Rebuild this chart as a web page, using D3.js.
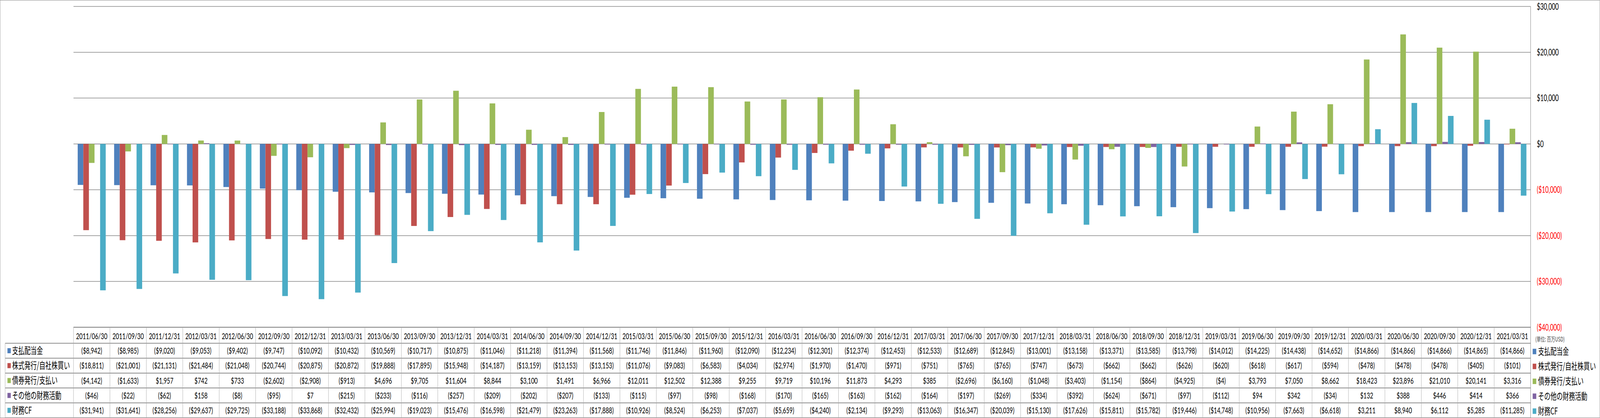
<!DOCTYPE html>
<html>
<head>
<meta charset="utf-8">
<script src="https://cdn.jsdelivr.net/npm/d3@7"></script>
<style>
    html, body { margin: 0; padding: 0; background: #fff; overflow: hidden; }
    svg { display: block; width: 100vw; height: 100vh; }
    .num { font-family: Lato, "Open Sans", sans-serif; }
    .jp { font-family: "Noto Sans CJK JP", "Noto Sans", sans-serif; }
</style>
</head>
<body>
<div id="chart"></div>
<script>
var dates = ["2011/06/30", "2011/09/30", "2011/12/31", "2012/03/31", "2012/06/30", "2012/09/30", "2012/12/31", "2013/03/31",
    "2013/06/30", "2013/09/30", "2013/12/31", "2014/03/31", "2014/06/30", "2014/09/30", "2014/12/31", "2015/03/31",
    "2015/06/30", "2015/09/30", "2015/12/31", "2016/03/31", "2016/06/30", "2016/09/30", "2016/12/31", "2017/03/31",
    "2017/06/30", "2017/09/30", "2017/12/31", "2018/03/31", "2018/06/30", "2018/09/30", "2018/12/31", "2019/03/31",
    "2019/06/30", "2019/09/30", "2019/12/31", "2020/03/31", "2020/06/30", "2020/09/30", "2020/12/31", "2021/03/31"];

var seriesNames = ["支払配当金", "株式発行/自社株買い", "債券発行/支払い", "その他の財務活動", "財務CF"];
var seriesColors = ["#4F81BD", "#C0504D", "#9BBB59", "#8064A2", "#4BACC6"];

var dividends = [-8942, -8985, -9020, -9053, -9402, -9747, -10092, -10432, -10569,
    -10717, -10875, -11046, -11218, -11394, -11568, -11746, -11846, -11960, -12090, -12234,
    -12301, -12374, -12453, -12533, -12689, -12845, -13001, -13158, -13371, -13585, -13798,
    -14012, -14225, -14438, -14652, -14866, -14866, -14866, -14865, -14866];
var stock = [-18811, -21001, -21131, -21484, -21048, -20744, -20875, -20872, -19888,
    -17895, -15948, -14187, -13159, -13153, -13153, -11076, -9083, -6583, -4034, -2974,
    -1970, -1470, -971, -751, -765, -765, -747, -673, -662, -662, -626,
    -620, -618, -617, -594, -478, -478, -478, -405, -101];
var bonds = [-4142, -1633, 1957, 742, 733, -2602, -2908, -913, 4696,
    9705, 11604, 8844, 3100, 1491, 6966, 12011, 12502, 12388, 9255, 9719,
    10196, 11873, 4293, 385, -2696, -6160, -1048, -3403, -1154, -864, -4925,
    -4, 3793, 7050, 8662, 18423, 23896, 21010, 20141, 3316];
var other = [-46, -22, -62, 158, -8, -95, 7, -215, -233,
    -116, -257, -209, -202, -207, -133, -115, -97, -98, -168, -170,
    -165, -163, -162, -164, -197, -269, -334, -392, -624, -671, -97,
    -112, 94, 342, -34, 132, 388, 446, 414, 366];
var financingCF = [-31941, -31641, -28256, -29637, -29725, -33188, -33868, -32432, -25994,
    -19023, -15476, -16598, -21479, -23263, -17888, -10926, -8524, -6253, -7037, -5659,
    -4240, -2134, -9293, -13063, -16347, -20039, -15130, -17626, -15811, -15782, -19446,
    -14748, -10956, -7663, -6618, 3211, 8940, 6112, 5285, -11285];

var yTicks = [30000, 20000, 10000, 0, -10000, -20000, -30000, -40000];
var unitLabel = "(単位: 百万USD)";

var series = [dividends, stock, bonds, other, financingCF];

var width = 6226;
var height = 1071;
var plotLeft = 286;
var plotRight = 5956;
var plotTop = 16.5;
var plotBottom = 838.5;
var headerH = 41;
var rowH = 38.2;
var tableLeft = 20;

var fmt = d3.format(",");
var money = function (v) {
    return v < 0 ? "($" + fmt(-v) + ")" : "$" + fmt(v);
};

// the window may be narrower than the chart, so the drawing is fitted to it
var svg = d3.select("#chart")
    .append("svg")
    .attr("viewBox", "0 0 " + width + " " + height)
    .attr("preserveAspectRatio", "none");

svg.append("rect")
    .attr("x", 0.5).attr("y", 0.5)
    .attr("width", width - 1).attr("height", height - 1)
    .attr("fill", "#fff")
    .attr("stroke", "#868686");

var x0 = d3.scaleBand().domain(dates).range([plotLeft, plotRight]);
var x1 = d3.scaleBand().domain(d3.range(series.length))
    .range([0, x0.bandwidth()])
    .paddingInner(0)
    .paddingOuter(0.75);
var y = d3.scaleLinear().domain([-40000, 30000]).range([plotBottom, plotTop]);

// gridlines
svg.append("g")
    .selectAll("line")
    .data(yTicks)
    .enter().append("line")
    .attr("x1", plotLeft).attr("x2", plotRight)
    .attr("y1", function (d) { return y(d); })
    .attr("y2", function (d) { return y(d); })
    .attr("stroke", "#868686")
    .attr("stroke-width", 1.5);

// bars
var groups = svg.append("g")
    .selectAll("g")
    .data(series)
    .enter().append("g")
    .attr("fill", function (d, i) { return seriesColors[i]; });

groups.each(function (vals, si) {
    d3.select(this).selectAll("rect")
        .data(vals)
        .enter().append("rect")
        .attr("x", function (d, i) { return x0(dates[i]) + x1(si); })
        .attr("width", x1.bandwidth())
        .attr("y", function (d) { return Math.min(y(d), y(0)); })
        .attr("height", function (d) { return Math.abs(y(d) - y(0)); });
});

// right axis line
svg.append("line")
    .attr("x1", plotRight).attr("x2", plotRight)
    .attr("y1", plotTop).attr("y2", plotBottom + headerH + rowH * 5)
    .attr("stroke", "#868686")
    .attr("stroke-width", 1.5);

// right axis labels
svg.append("g")
    .selectAll("text")
    .data(yTicks)
    .enter().append("text")
    .attr("class", "num")
    .attr("x", plotRight + 24)
    .attr("y", function (d) { return y(d); })
    .attr("dy", "0.35em")
    .style("font-size", "23px")
    .attr("fill", function (d) { return d < 0 ? "#FF0000" : "#000"; })
    .text(money);

svg.append("text")
    .attr("class", "jp")
    .attr("x", plotRight + 18)
    .attr("y", 869)
    .attr("dy", "0.35em")
    .style("font-size", "16px")
    .attr("fill", "#404040")
    .text(unitLabel);

// data table
var table = svg.append("g");
var tableBottom = plotBottom + headerH + rowH * 5;
var rowTop = function (r) { return plotBottom + headerH + rowH * r; };

table.append("line")
    .attr("x1", plotLeft).attr("x2", plotRight)
    .attr("y1", plotBottom).attr("y2", plotBottom)
    .attr("stroke", "#868686").attr("stroke-width", 2);

table.selectAll(".hline")
    .data(d3.range(6))
    .enter().append("line")
    .attr("class", "hline")
    .attr("x1", tableLeft).attr("x2", plotRight)
    .attr("y1", function (r) { return rowTop(r); })
    .attr("y2", function (r) { return rowTop(r); })
    .attr("stroke", "#8c8c8c").attr("stroke-width", 2);

table.selectAll(".vline")
    .data(dates)
    .enter().append("line")
    .attr("class", "vline")
    .attr("x1", function (d) { return x0(d); })
    .attr("x2", function (d) { return x0(d); })
    .attr("y1", plotBottom).attr("y2", tableBottom)
    .attr("stroke", "#a6a6a6").attr("stroke-width", 1);

table.append("line")
    .attr("x1", tableLeft).attr("x2", tableLeft)
    .attr("y1", rowTop(0)).attr("y2", tableBottom)
    .attr("stroke", "#a6a6a6").attr("stroke-width", 1);

table.selectAll(".hdr")
    .data(dates)
    .enter().append("text")
    .attr("class", "num hdr")
    .attr("x", function (d) { return x0(d) + x0.bandwidth() / 2; })
    .attr("y", plotBottom + headerH / 2 + 2)
    .attr("dy", "0.35em")
    .attr("text-anchor", "middle")
    .style("font-size", "22px")
    .text(function (d) { return d; });

series.forEach(function (vals, si) {
    var cy = rowTop(si) + rowH / 2;
    table.append("rect")
        .attr("x", 29).attr("y", cy - 6.5)
        .attr("width", 13).attr("height", 13)
        .attr("fill", seriesColors[si]);
    table.append("text")
        .attr("class", "jp")
        .attr("x", 47).attr("y", cy)
        .attr("dy", "0.35em")
        .style("font-size", "24px")
        .text(seriesNames[si]);
    table.append("g")
        .selectAll("text")
        .data(vals)
        .enter().append("text")
        .attr("class", "num")
        .attr("x", function (d, i) { return x0(dates[i]) + x0.bandwidth() / 2; })
        .attr("y", cy)
        .attr("dy", "0.35em")
        .attr("text-anchor", "middle")
        .style("font-size", "22px")
        .text(money);
});

// legend on the right
var legend = svg.append("g")
    .selectAll("g")
    .data(seriesNames)
    .enter().append("g")
    .attr("transform", function (d, i) { return "translate(" + (plotRight + 8) + "," + (rowTop(i) + rowH / 2 + 2) + ")"; });

legend.append("rect")
    .attr("x", 0).attr("y", -7)
    .attr("width", 14).attr("height", 14)
    .attr("fill", function (d, i) { return seriesColors[i]; });

legend.append("text")
    .attr("class", "jp")
    .attr("x", 21).attr("y", 0)
    .attr("dy", "0.35em")
    .style("font-size", "24px")
    .text(function (d) { return d; });
</script>
</body>
</html>
